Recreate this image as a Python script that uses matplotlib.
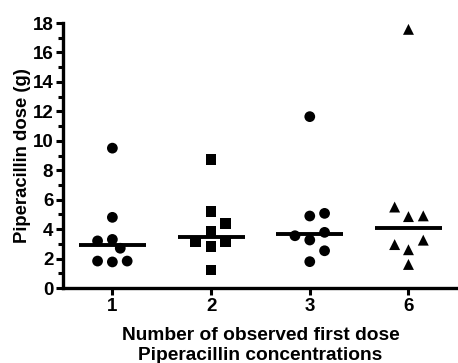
import numpy as np
import matplotlib.pyplot as plt

plt.rcParams['font.family'] = ['Liberation Sans', 'DejaVu Sans']
plt.rcParams['font.weight'] = 'bold'

#%% data
groups = ['1', '2', '3', '6']
markers = ['o', 's', 'o', '^']

dose_1 = [9.5, 4.8, 3.2, 3.3, 2.7, 1.83, 1.77, 1.83]
dose_2 = [8.74, 5.18, 4.39, 3.83, 3.15, 3.15, 2.81, 1.22]
dose_3 = [11.64, 4.89, 5.07, 3.55, 3.26, 3.78, 2.53, 1.79]
dose_6 = [17.57, 5.5, 4.85, 4.9, 2.95, 2.6, 3.25, 1.6]
doses = [dose_1, dose_2, dose_3, dose_6]

# horizontal scatter of points within each column
spread_1 = [0, 0, -0.15, 0, 0.08, -0.15, 0, 0.15]
spread_2 = [0, 0, 0.15, 0, -0.16, 0.15, 0, 0]
spread_3 = [0, 0, 0.15, -0.15, 0, 0.15, 0.15, 0]
spread_6 = [0, -0.14, 0, 0.15, -0.14, 0, 0.15, 0]
spreads = [spread_1, spread_2, spread_3, spread_6]

#%% plot
fig = plt.figure(figsize=(4.58, 3.63), dpi=100)
ax = fig.add_axes([0.1376, 0.2066, 0.862, 0.730])

for i, (d, s, m) in enumerate(zip(doses, spreads, markers)):
    x = i + np.array(s)
    ax.scatter(x, d, marker=m, s=60 if m != '^' else 62, color='black',
               edgecolors='none', zorder=3)
    med = np.median(d)
    ax.plot([i - 0.34, i + 0.34], [med, med], color='black', lw=2.8,
            solid_capstyle='butt', zorder=2)

ax.set_xlim(-0.5, 3.5)
ax.set_ylim(0, 18)
ax.set_xticks(range(len(groups)))
ax.set_xticklabels(groups)
ax.set_yticks(np.arange(0, 19, 2))
ax.set_yticks(np.arange(0, 19, 1), minor=True)

for side in ['top', 'right']:
    ax.spines[side].set_visible(False)
for side in ['left', 'bottom']:
    ax.spines[side].set_linewidth(2.4)

ax.tick_params(axis='both', which='major', direction='out', length=5,
               width=2.2, labelsize=13.5, pad=2)
ax.tick_params(axis='y', which='minor', direction='out', length=3.5, width=2.2)
ax.tick_params(axis='x', which='minor', bottom=False)

ax.set_ylabel('Piperacillin dose (g)', fontsize=13.3, fontweight='bold', labelpad=1)
ax.set_xlabel('Number of observed first dose\nPiperacillin concentrations',
              fontsize=13.8, fontweight='bold', labelpad=9, linespacing=1.2)

plt.savefig('out.png', dpi=100)
